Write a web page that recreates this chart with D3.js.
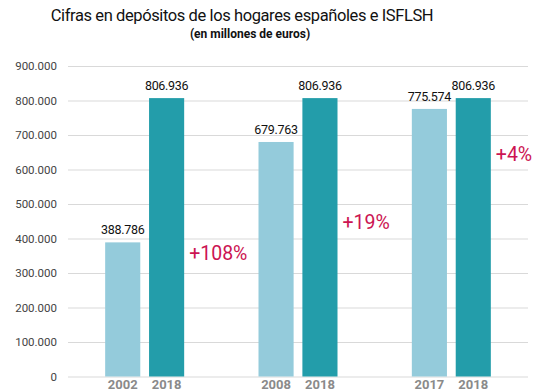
<!DOCTYPE html>
<html>
<head>
<meta charset="utf-8">
<script src="https://d3js.org/d3.v7.min.js"></script>
<style>
  body { margin: 0; background: #fff; }
  svg { display: block; font-family: Roboto, "Liberation Sans", sans-serif; }
</style>
</head>
<body>
<svg id="chart" width="537" height="392"></svg>
<script>
"use strict"

const groups = ["g2002", "g2008", "g2017"]
const baseYears = ["2002", "2008", "2017"]
const baseValues = [388786, 679763, 775574]
const endYears = ["2018", "2018", "2018"]
const endValues = [806936, 806936, 806936]
const changes = ["+108%", "+19%", "+4%"]
// level (in euros, on the y scale) where each change label sits
const changeAt = [358000, 448000, 645000]
const yTicks = [0, 100000, 200000, 300000, 400000, 500000, 600000, 700000, 800000, 900000]

const svg = d3.select("#chart")
const fmt = d3.formatLocale({ decimal: ",", thousands: ".", grouping: [3], currency: ["", "€"] }).format(",d")

const x = d3.scaleBand().domain(groups).range([68, 528]).padding(0)
const bw = x.bandwidth()
const inner = d3.scaleBand().domain(["base", "end"])
  .range([bw / 2 - 39.5, bw / 2 + 39.5]).paddingInner(0.2).paddingOuter(0)
const y = d3.scaleLinear().domain([0, 900000]).range([376.5, 66])

// title
svg.append("text")
  .attr("x", 242).attr("y", 21)
  .attr("text-anchor", "middle")
  .attr("font-size", 16.5).attr("fill", "#111")
  .attr("letter-spacing", "-0.4")
  .text("Cifras en depósitos de los hogares españoles e ISFLSH")
svg.append("text")
  .attr("x", 250).attr("y", 38)
  .attr("text-anchor", "middle")
  .attr("font-size", 12).attr("font-weight", "bold").attr("fill", "#111")
  .text("(en millones de euros)")

// grid + y labels
const yAxis = d3.axisLeft(y).tickValues(yTicks).tickSize(-460).tickPadding(11)
  .tickFormat(d => d === 0 ? "0" : fmt(d))
const ga = svg.append("g").attr("transform", "translate(68,0)").call(yAxis)
ga.select(".domain").remove()
ga.selectAll(".tick line").attr("stroke", "#d9d9d9")
ga.selectAll(".tick text").attr("font-size", 11.5).attr("fill", "#444")
  .attr("font-family", "Roboto, sans-serif")

const rows = groups.map((g, i) => ({
  g, bars: [
    { k: "base", year: baseYears[i], v: baseValues[i] },
    { k: "end", year: endYears[i], v: endValues[i] }
  ], change: changes[i], at: changeAt[i]
}))

const colors = { base: "#94cbdb", end: "#239daa" }

const gg = svg.append("g").selectAll("g")
  .data(rows).enter().append("g")
  .attr("transform", d => `translate(${x(d.g)},0)`)

gg.selectAll("rect").data(d => d.bars).enter().append("rect")
  .attr("x", d => inner(d.k))
  .attr("width", inner.bandwidth())
  .attr("y", d => y(d.v))
  .attr("height", d => y(0) - y(d.v))
  .attr("fill", d => colors[d.k])

gg.selectAll("text.val").data(d => d.bars).enter().append("text")
  .attr("class", "val")
  .attr("x", d => inner(d.k) + inner.bandwidth() / 2)
  .attr("y", d => y(d.v) - 8)
  .attr("text-anchor", "middle")
  .attr("font-size", 12.5).attr("fill", "#111")
  .attr("letter-spacing", "-0.3")
  .text(d => fmt(d.v))

gg.selectAll("text.yr").data(d => d.bars).enter().append("text")
  .attr("class", "yr")
  .attr("x", d => inner(d.k) + inner.bandwidth() / 2)
  .attr("y", 389)
  .attr("text-anchor", "middle")
  .attr("font-size", 13).attr("font-weight", "bold").attr("fill", "#8a8a8a")
  .text(d => d.year)

gg.append("text")
  .attr("x", inner("end") + inner.bandwidth() + 5)
  .attr("y", d => y(d.at))
  .attr("dy", "0.35em")
  .attr("font-size", 19.5).attr("fill", "#cc1452")
  .text(d => d.change)
</script>
</body>
</html>
